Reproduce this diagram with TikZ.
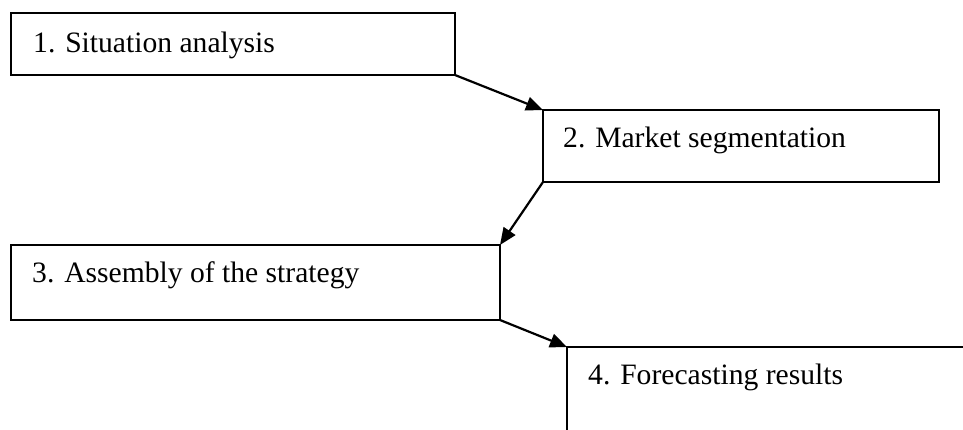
\documentclass[tikz,border=0pt]{standalone}
\usepackage{fontspec}
\setmainfont{Liberation Serif}
\usetikzlibrary{arrows.meta}
\begin{document}
\begin{tikzpicture}[x=1pt,y=1pt,
  box/.style={draw, line width=2.2pt, inner sep=0pt, outer sep=0pt, anchor=north west},
  lbl/.style={anchor=base west, inner sep=0pt, font=\fontsize{29.6}{36}\selectfont},
  arr/.style={line width=2.2pt, -{Triangle[length=17pt,width=14pt]}}]
\useasboundingbox (0,0) rectangle (963,-429);
\clip (0,0) rectangle (963,-429);
\node[box, minimum width=444pt, minimum height=62pt] (b1) at (11,-13) {};
\node[box, minimum width=396pt, minimum height=72pt] (b2) at (543,-110) {};
\node[box, minimum width=489pt, minimum height=75pt] (b3) at (11,-245) {};
\node[box, minimum width=500pt, minimum height=150pt] (b4) at (567,-347) {};
\node[lbl] (t1) at (33,-52) {1. Situation analysis};
\node[lbl] (t2) at (563,-147) {2. Market segmentation};
\node[lbl] (t3) at (32,-282) {3. Assembly of the strategy};
\node[lbl] (t4) at (588,-384) {4. Forecasting results};
\draw[arr] (b1.south east) -- (b2.north west);
\draw[arr] (b2.south west) -- (b3.north east);
\draw[arr] (b3.south east) -- (b4.north west);
\end{tikzpicture}
\end{document}
